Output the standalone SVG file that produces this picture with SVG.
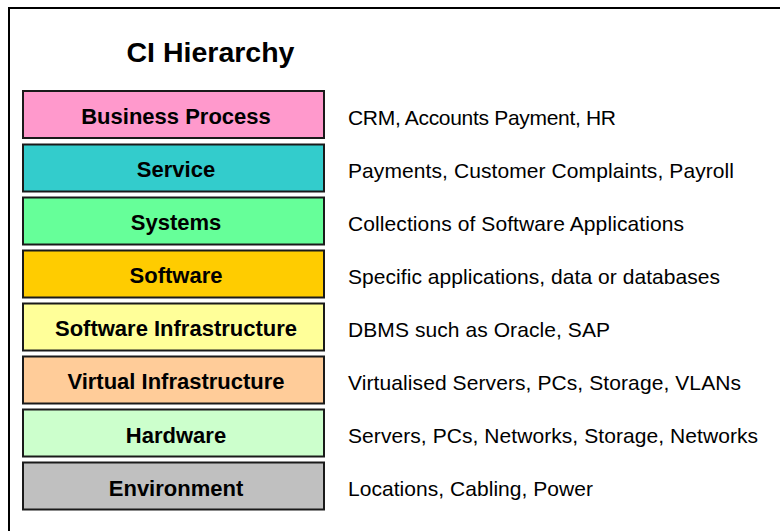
<svg xmlns="http://www.w3.org/2000/svg" width="780" height="531" viewBox="0 0 780 531">
<style>
.frame{fill:#fff;stroke:#000;stroke-width:2}
.box{stroke:#1a1a1a;stroke-width:2}
.lbl{font-family:"Liberation Sans",Arial,sans-serif;font-weight:bold;font-size:22px;fill:#000;text-anchor:middle}
.desc{font-family:"Liberation Sans",Arial,sans-serif;font-size:21px;fill:#000}
.title{font-family:"Liberation Sans",Arial,sans-serif;font-weight:bold;font-size:28.5px;fill:#000;text-anchor:middle}
</style>
<rect x="0" y="0" width="780" height="531" fill="#fff"/>
<rect class="frame" x="9" y="8" width="790" height="540"/>
<text class="title" x="210.5" y="62">CI Hierarchy</text>
<g id="business-process">
<rect class="box" x="23" y="91" width="301" height="47" fill="#FF99CC"/>
<text class="lbl" x="176" y="123.5">Business Process</text>
<text class="desc" x="348" y="124.5" textLength="268" lengthAdjust="spacing">CRM, Accounts Payment, HR</text>
</g>
<g id="service">
<rect class="box" x="23" y="144.5" width="301" height="47" fill="#33CCCC"/>
<text class="lbl" x="176" y="177">Service</text>
<text class="desc" x="348" y="178" textLength="386" lengthAdjust="spacing">Payments, Customer Complaints, Payroll</text>
</g>
<g id="systems">
<rect class="box" x="23" y="197.5" width="301" height="47" fill="#66FF99"/>
<text class="lbl" x="176" y="230">Systems</text>
<text class="desc" x="348" y="231" textLength="336" lengthAdjust="spacing">Collections of Software Applications</text>
</g>
<g id="software">
<rect class="box" x="23" y="250.5" width="301" height="47" fill="#FFCC00"/>
<text class="lbl" x="176" y="283">Software</text>
<text class="desc" x="348" y="284" textLength="372" lengthAdjust="spacing">Specific applications, data or databases</text>
</g>
<g id="software-infrastructure">
<rect class="box" x="23" y="303.5" width="301" height="47" fill="#FFFF99"/>
<text class="lbl" x="176" y="336">Software Infrastructure</text>
<text class="desc" x="348" y="337" textLength="262" lengthAdjust="spacing">DBMS such as Oracle, SAP</text>
</g>
<g id="virtual-infrastructure">
<rect class="box" x="23" y="356.5" width="301" height="47" fill="#FFCC99"/>
<text class="lbl" x="176" y="389">Virtual Infrastructure</text>
<text class="desc" x="348" y="390" textLength="393" lengthAdjust="spacing">Virtualised Servers, PCs, Storage, VLANs</text>
</g>
<g id="hardware">
<rect class="box" x="23" y="409.5" width="301" height="47" fill="#CCFFCC"/>
<text class="lbl" x="176" y="442.5">Hardware</text>
<text class="desc" x="348" y="443" textLength="410" lengthAdjust="spacing">Servers, PCs, Networks, Storage, Networks</text>
</g>
<g id="environment">
<rect class="box" x="23" y="462.5" width="301" height="47" fill="#C0C0C0"/>
<text class="lbl" x="176" y="495.5">Environment</text>
<text class="desc" x="348" y="496" textLength="245" lengthAdjust="spacing">Locations, Cabling, Power</text>
</g>
<g id="connectors"></g>
</svg>
